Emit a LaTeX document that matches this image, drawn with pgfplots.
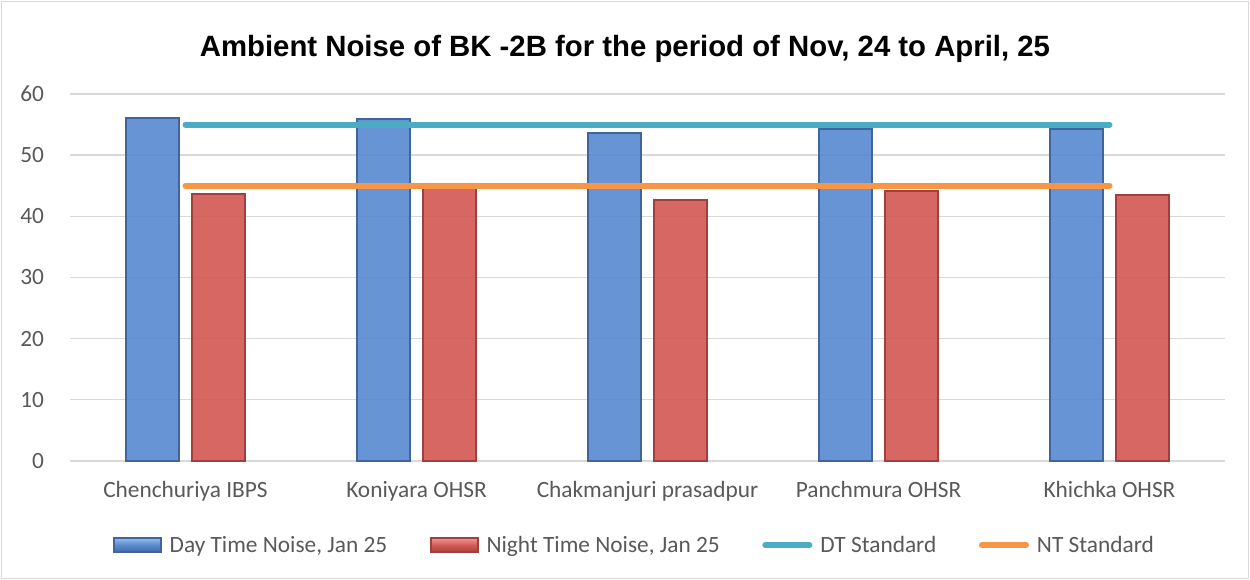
\documentclass[border=0pt]{standalone}
\usepackage{fontspec}
\setmainfont{Carlito}
\newfontfamily\titlefont{Liberation Sans}
\usepackage{pgfplots}
\pgfplotsset{compat=1.18}

\definecolor{dayMid}{HTML}{5A8BD0}
\definecolor{dayDark}{HTML}{3F659C}
\definecolor{dayLight}{HTML}{9CC3EE}
\definecolor{nightMid}{HTML}{D35A55}
\definecolor{nightDark}{HTML}{A03F3B}
\definecolor{nightLight}{HTML}{F2A09C}
\definecolor{dtC}{HTML}{4BACC6}
\definecolor{ntC}{HTML}{F79646}
\definecolor{labelgray}{HTML}{595959}

\begin{document}
\begin{tikzpicture}
\useasboundingbox (0,0) rectangle (937.5pt,435pt);
\draw[gray!30, line width=1.2pt] (1pt,1pt) rectangle (936.5pt,434pt);
\begin{axis}[
  at={(52.5pt,89.25pt)}, anchor=south west,
  scale only axis, width=866.25pt, height=275.25pt,
  xmin=-0.5, xmax=4.5, ymin=0, ymax=60,
  xtick={0,1,2,3,4},
  xticklabels={Chenchuriya IBPS, Koniyara OHSR, Chakmanjuri prasadpur, Panchmura OHSR, Khichka OHSR},
  ytick={0,10,...,60},
  ymajorgrids, grid style={gray!30, line width=1pt},
  axis line style={draw=none},
  major tick length=0pt,
  tick label style={font=\fontsize{17.5}{19}\selectfont, text=labelgray},
  /pgf/number format/assume math mode=true,
  xticklabel style={yshift=-12pt},
  yticklabel style={xshift=-16pt},
  title={Ambient Noise of BK -2B for the period of Nov, 24 to April, 25},
  title style={at={(0.4805,1)}, anchor=center, yshift=28pt,
    font=\titlefont\bfseries\fontsize{22}{24}\selectfont},
  legend style={at={(0.489,-0.229)}, anchor=center, draw=none,
    legend columns=4, font=\fontsize{17.5}{19}\selectfont, text=labelgray,
    /tikz/every odd column/.append style={column sep=4pt},
    /tikz/every even column/.append style={column sep=30pt}},
  clip=false,
]
% Day time noise
\addplot[ybar, bar width=39.75pt, bar shift=-24.4pt, draw=dayDark, line width=1.5pt,
  fill=dayMid, fill opacity=0.92,
  legend image code/.code={\draw[draw=dayDark, top color=dayLight, bottom color=dayDark, middle color=dayMid] (0pt,-5.5pt) rectangle (35pt,5.5pt);}]
  coordinates {(0,56) (1,55.9) (2,53.6) (3,54.3) (4,54.3)};
% Night time noise
\addplot[ybar, bar width=39.75pt, bar shift=24.4pt, draw=nightDark, line width=1.5pt,
  fill=nightMid, fill opacity=0.92,
  legend image code/.code={\draw[draw=nightDark, top color=nightLight, bottom color=nightDark, middle color=nightMid] (0pt,-5.5pt) rectangle (35pt,5.5pt);}]
  coordinates {(0,43.6) (1,45.3) (2,42.7) (3,44.1) (4,43.5)};
% Standards
\addplot[sharp plot, no marks, color=dtC, line width=4.5pt, line cap=round,
  legend image code/.code={\draw[dtC, line width=4.5pt, line cap=round] (2pt,0pt) -- (35pt,0pt);}]
  coordinates {(0,55) (4,55)};
\addplot[sharp plot, no marks, color=ntC, line width=4.5pt, line cap=round,
  legend image code/.code={\draw[ntC, line width=4.5pt, line cap=round] (2pt,0pt) -- (35pt,0pt);}]
  coordinates {(0,45) (4,45)};
\legend{{Day Time Noise, Jan 25}, {Night Time Noise, Jan 25}, {DT Standard}, {NT Standard}}
\end{axis}
\end{tikzpicture}
\end{document}
